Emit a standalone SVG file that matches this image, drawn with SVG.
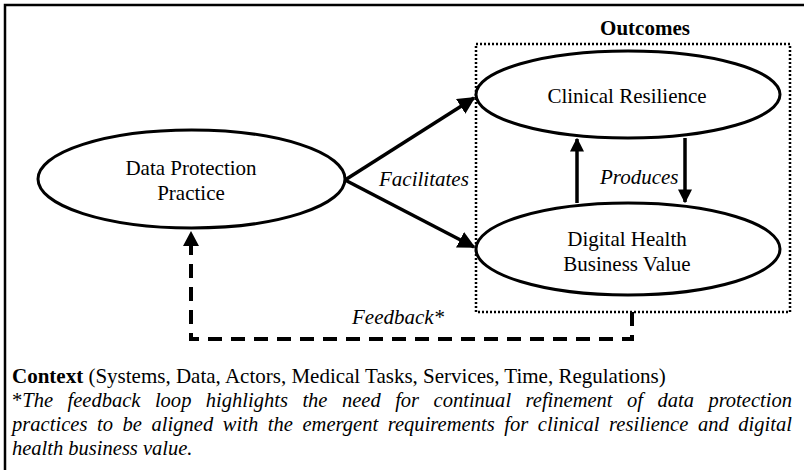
<svg xmlns="http://www.w3.org/2000/svg" width="804" height="470" viewBox="0 0 804 470" font-family="'Liberation Serif','Times New Roman',serif">
<style>
text{font-family:"Liberation Serif","Times New Roman",serif;fill:#000}
.lbl{font-size:21px;text-anchor:middle}
.it{font-style:italic}
.node{fill:#fff;stroke:#000;stroke-width:3}
.arr{stroke:#000;stroke-width:3.5;fill:none}
.fb{stroke:#000;stroke-width:4;fill:none;stroke-dasharray:14 9}
.note{font-size:20.5px}
</style>
<defs>
<marker id="ah" viewBox="0 0 10 10" refX="9" refY="5" markerWidth="5" markerHeight="5" orient="auto" markerUnits="strokeWidth">
<path d="M0,0 L10,5 L0,10 z" fill="#000"/>
</marker>
<marker id="ah2" viewBox="0 0 10 10" refX="9" refY="5" markerWidth="4" markerHeight="4" orient="auto" markerUnits="strokeWidth">
<path d="M0,0 L10,5 L0,10 z" fill="#000"/>
</marker>
</defs>
<rect width="804" height="470" fill="#fff"/>
<path d="M5,470 V5 H804" fill="none" stroke="#000" stroke-width="2.5"/>
<g id="outcomes">
<rect x="476" y="44" width="314" height="268" fill="none" stroke="#000" stroke-width="2.5" stroke-dasharray="2 2"/>
<text x="645" y="35" font-size="21" font-weight="bold" text-anchor="middle">Outcomes</text>
</g>
<g id="dpp">
<ellipse class="node" cx="191.5" cy="179" rx="153.5" ry="49"/>
<text class="lbl" x="191" y="175">Data Protection</text>
<text class="lbl" x="191" y="200">Practice</text>
</g>
<g id="cr">
<ellipse class="node" cx="628" cy="94.5" rx="152" ry="43.5"/>
<text class="lbl" x="627" y="103">Clinical Resilience</text>
</g>
<g id="dhbv">
<ellipse class="node" cx="628" cy="249" rx="152" ry="46"/>
<text class="lbl" x="627" y="246">Digital Health</text>
<text class="lbl" x="627" y="271">Business Value</text>
</g>
<g id="connectors">
<line class="arr" x1="345" y1="180" x2="474" y2="98" marker-end="url(#ah)"/>
<line class="arr" x1="345" y1="180" x2="474" y2="247" marker-end="url(#ah)"/>
<line class="arr" x1="577" y1="203" x2="577" y2="139" marker-end="url(#ah2)"/>
<line class="arr" x1="685" y1="138" x2="685" y2="202" marker-end="url(#ah2)"/>
<path class="fb" d="M632,312 V339 H191 V244"/>
<path d="M183,246 L191,231 L199,246 z" fill="#000"/>
<text x="379" y="186" font-size="21" class="it">Facilitates</text>
<text x="600" y="184" font-size="21" class="it">Produces</text>
<text x="352" y="324" font-size="21" class="it">Feedback*</text>
</g>
<g id="notes">
<text x="12" y="383" font-size="21"><tspan font-weight="bold">Context</tspan> (Systems, Data, Actors, Medical Tasks, Services, Time, Regulations)</text>
<text class="note" x="12" y="407" word-spacing="9.3" textLength="780" lengthAdjust="spacing">*<tspan class="it">The feedback loop highlights the need for continual refinement of data protection</tspan></text>
<text class="note it" x="12" y="431" word-spacing="4.4" textLength="780" lengthAdjust="spacing">practices to be aligned with the emergent requirements for clinical resilience and digital</text>
<text class="note it" x="12" y="455">health business value.</text>
</g>
</svg>
